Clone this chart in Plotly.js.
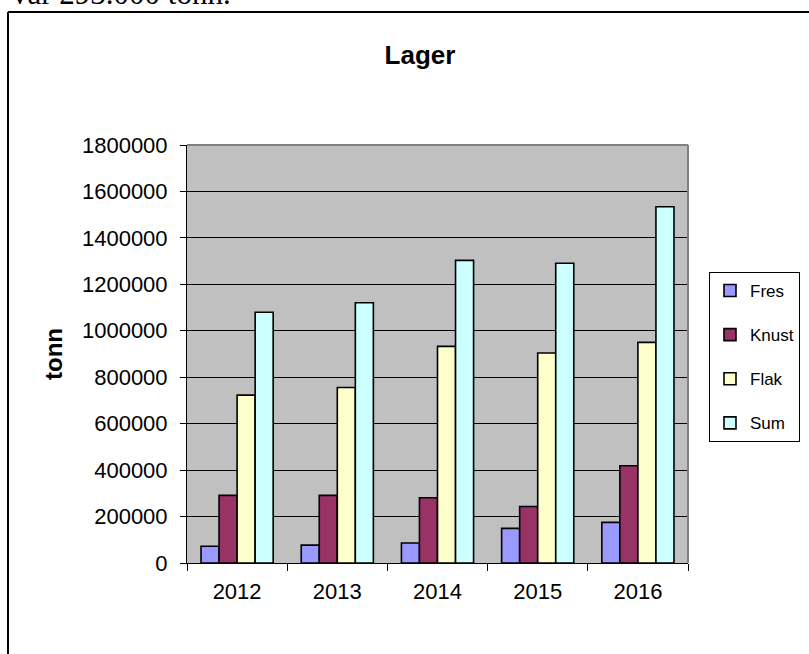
<!DOCTYPE html>
<html>
<head>
<meta charset="utf-8">
<script src="https://cdn.plot.ly/plotly-3.0.1.min.js"></script>
<style>
html,body{margin:0;padding:0;background:#fff;}
#chart{width:809px;height:654px;}
</style>
</head>
<body>
<div id="chart"></div>
<script>
const years = ['2012', '2013', '2014', '2015', '2016'];
const seriesNames = ['Fres', 'Knust', 'Flak', 'Sum'];
const fres  = [72000, 77000, 86000, 149000, 175000];
const knust = [291000, 291000, 281000, 243000, 419000];
const flak  = [723000, 756000, 933000, 904000, 950000];
const sum   = [1080000, 1121000, 1303000, 1291000, 1534000];
const colors = ['#9999FF', '#993366', '#FFFFCC', '#CCFFFF'];
const yTicks = [0, 200000, 400000, 600000, 800000, 1000000, 1200000, 1400000, 1600000, 1800000];

const W = 809, H = 654;
const PL = 187, PR = 688, PT = 145, PB = 563;
const px = x => (x - PL) / (PR - PL);
const py = y => (PB - y) / (PB - PT);

const values = [fres, knust, flak, sum];
const traces = seriesNames.map((n, i) => ({
  type: 'bar',
  name: n,
  x: years,
  y: values[i],
  legendgroup: n,
  marker: {color: colors[i], line: {color: '#000', width: 1.6}}
}));

const font = 'Liberation Sans, Arial, sans-serif';
const layout = {
  width: W, height: H,
  margin: {l: PL, r: W - PR, t: PT, b: H - PB, pad: 0, autoexpand: false},
  paper_bgcolor: '#fff',
  plot_bgcolor: '#C0C0C0',
  barmode: 'group',
  bargap: 0.28,
  bargroupgap: 0,
  font: {family: font, color: '#000'},
  title: {
    text: '<b>Lager</b>',
    font: {family: font, size: 26, color: '#000'},
    x: 420 / W, xanchor: 'center', xref: 'container',
    y: 1 - 55 / H, yanchor: 'middle', yref: 'container'
  },
  xaxis: {
    type: 'category',
    showline: true, linecolor: '#000', linewidth: 1,
    ticks: 'outside', ticklen: 7, tickcolor: '#000', tickwidth: 1,
    tickson: 'boundaries',
    tickfont: {family: font, size: 22, color: '#000'},
    ticklabelstandoff: 9,
    showgrid: false, zeroline: false, fixedrange: true
  },
  yaxis: {
    range: [0, 1800000],
    tickvals: yTicks,
    ticktext: yTicks.map(v => String(v)),
    showline: true, linecolor: '#000', linewidth: 1,
    ticks: 'outside', ticklen: 6, tickcolor: '#000', tickwidth: 1,
    tickfont: {family: font, size: 22, color: '#000'},
    ticklabelstandoff: 8,
    showgrid: true, gridcolor: '#000', gridwidth: 1,
    zeroline: false, fixedrange: true,
    title: {text: '<b>tonn</b>', font: {family: font, size: 24, color: '#000'}, standoff: 12}
  },
  showlegend: true,
  legend: {
    x: px(709), xanchor: 'left', y: py(272), yanchor: 'top',
    xref: 'paper', yref: 'paper',
    bgcolor: '#fff', bordercolor: '#000', borderwidth: 1,
    font: {family: font, size: 17, color: '#000'},
    traceorder: 'grouped', tracegroupgap: 19,
    itemclick: false, itemdoubleclick: false
  },
  shapes: [
    {type: 'line', xref: 'paper', yref: 'paper', x0: px(PL), x1: px(PR), y0: 1, y1: 1,
     line: {color: '#808080', width: 2}, layer: 'above'},
    {type: 'line', xref: 'paper', yref: 'paper', x0: 1, x1: 1, y0: 0, y1: 1,
     line: {color: '#808080', width: 2}, layer: 'above'},
    {type: 'line', xref: 'paper', yref: 'paper', x0: px(8), x1: px(W + 5), y0: py(12), y1: py(12),
     line: {color: '#000', width: 2}},
    {type: 'line', xref: 'paper', yref: 'paper', x0: px(8), x1: px(8), y0: py(12), y1: py(H + 5),
     line: {color: '#000', width: 2}}
  ],
  annotations: [
    {text: 'var 293.000 tonn.', xref: 'paper', yref: 'paper', x: px(10), xanchor: 'left',
     y: py(-6), yanchor: 'middle', showarrow: false,
     font: {family: 'Liberation Serif, Times New Roman, serif', size: 31, color: '#000'}}
  ]
};

Plotly.newPlot('chart', traces, layout, {displayModeBar: false, staticPlot: true});
</script>
</body>
</html>
